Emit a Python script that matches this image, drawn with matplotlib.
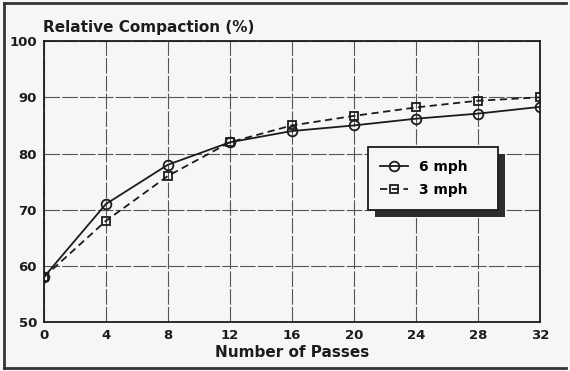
import matplotlib.pyplot as plt
from matplotlib.lines import Line2D
from matplotlib.patches import Rectangle

passes = [0, 4, 8, 12, 16, 20, 24, 28, 32]
mph6 = [58, 71, 78, 82, 84, 85, 86.2, 87.1, 88.3]
mph3 = [58, 68, 76, 82, 85, 86.7, 88.2, 89.4, 90]

ink = '#1c1c1c'
bg = '#f6f6f6'
plt.rcParams['font.family'] = 'DejaVu Sans'
plt.rcParams['font.weight'] = 'bold'

fig = plt.figure(figsize=(5.7, 3.71), dpi=100, facecolor=bg)
ax = fig.add_axes([0.077, 0.132, 0.87, 0.757])
ax.set_facecolor(bg)

ax.plot(passes, mph6, color=ink, lw=1.3, marker='o', ms=7,
        mfc='none', mec=ink, mew=1.3, label='6 mph', zorder=3)
ax.plot(passes, mph3, color=ink, lw=1.3, ls=(0, (4, 2.5)), marker='s', ms=6,
        mfc='none', mec=ink, mew=1.3, label='3 mph', zorder=3)

ax.set_xlim(0, 32)
ax.set_ylim(50, 100)
ax.set_xticks(passes)
ax.set_yticks(range(50, 101, 10))
ax.grid(True, color='#555555', lw=0.8, ls=(0, (14, 2)))
ax.tick_params(length=0, labelsize=9.5, colors=ink, pad=5)
for s in ax.spines.values():
    s.set_color(ink)
    s.set_linewidth(1.3)

ax.set_xlabel('Number of Passes', fontsize=11, color=ink, labelpad=2, fontweight='bold')
fig.text(0.075, 0.925, 'Relative Compaction (%)', fontsize=11, color=ink, va='center')

leg = ax.legend(loc='upper left', bbox_to_anchor=(0.653, 0.391, 0.262, 0.232),
                mode='expand', borderaxespad=0, fancybox=False, edgecolor=ink,
                facecolor=bg, framealpha=1, handlelength=2.0, borderpad=0.9,
                labelspacing=0.7, fontsize=10)
leg.get_frame().set_linewidth(1.3)
leg.set_zorder(6)

# thick drop shadow of the legend box
fig.canvas.draw()
bb = leg.get_frame().get_window_extent().transformed(fig.transFigure.inverted())
dx, dy = 7 / 570, 7 / 371
ax.add_artist(Rectangle((bb.x0 + dx, bb.y0 - dy), bb.width, bb.height,
                        transform=fig.transFigure, facecolor='#2e2e2e',
                        edgecolor='none', zorder=5.5, clip_on=False))

# outer frame of the scanned figure
for xs, ys in [([0.007, 0.993], [0.991, 0.991]), ([0.007, 0.993], [0.008, 0.008]),
               ([0.007, 0.007], [0.008, 0.991])]:
    fig.add_artist(Line2D(xs, ys, color='#333333', lw=2))

fig.savefig('out.png', dpi=100, facecolor=fig.get_facecolor())
